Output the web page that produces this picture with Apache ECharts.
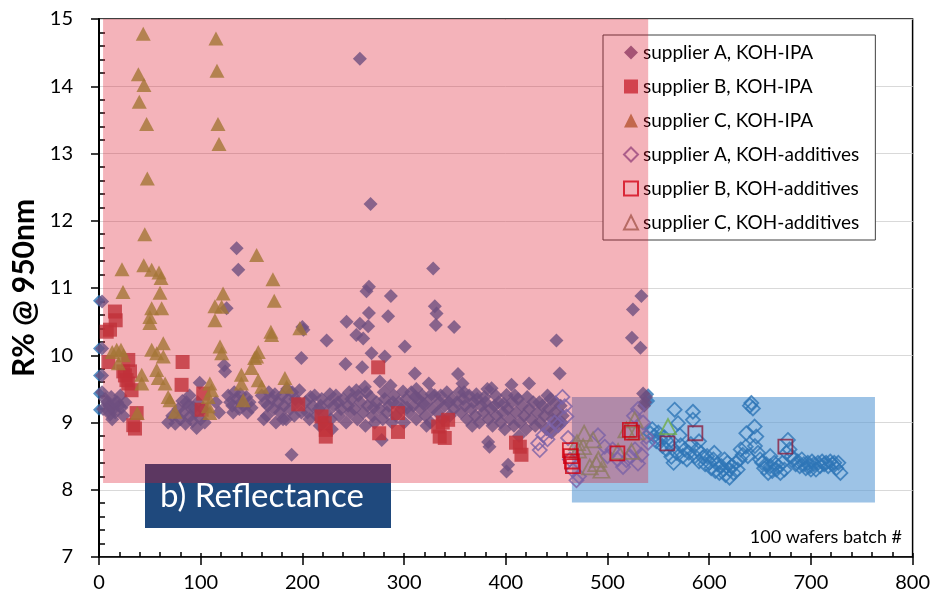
<!DOCTYPE html>
<html><head><meta charset="utf-8">
<script src="https://cdn.jsdelivr.net/npm/echarts@6/dist/echarts.min.js"></script>
<style>html,body{margin:0;padding:0;background:#fff}#c{width:933px;height:597px}</style>
</head><body><div id="c"></div>
<script>
// ---- axis ticks ----
const xTicks = [0, 100, 200, 300, 400, 500, 600, 700, 800];
const yTicks = [7, 8, 9, 10, 11, 12, 13, 14, 15];
// ---- highlighted regions [xFrom, xTo, yFrom, yTo] ----
const pinkRegion = [4, 540, 8.1, 15];
const blueRegion = [465, 763, 7.81, 9.38];
// ---- series names ----
const names = ['supplier A, KOH-IPA', 'supplier B, KOH-IPA', 'supplier C, KOH-IPA',
  'supplier A, KOH-additives', 'supplier B, KOH-additives', 'supplier C, KOH-additives'];

const aIPA = [
 [3,10.8],[3,10.1],[3,9.7],[3,9.45],[4,9.2],[6,9.35],[8,9.3],[10,9.25],[12,9.38],[14,9.2],[16,9.15],[18,9.3],[20,9.25],[22,9.22],[24,9.1],[11,9.12],[15,9.28],[26,9.3],
 [68,9.0],[72,9.1],[75,8.98],[78,9.2],[80,9.05],[83,9.15],[85,8.98],[88,9.25],[90,9.1],[92,9.02],[95,9.15],[97,9.3],[100,9.05],[102,9.2],[104,9.0],[99,9.59],[86,9.3],[93,9.22],
 [125.5,10.7],[123,9.85],[124,9.76],[135.3,11.59],[137,11.27],[127,9.4],[129,9.3],[131,9.25],[133,9.45],[136,9.35],[138,9.2],[140,9.3],[142,9.25],[145,9.38],[148,9.3],[150,9.22],[115,9.3],[118,9.15],
 [160,9.4],[163,9.3],[165,9.1],[167,9.45],[170,9.35],[172,9.2],[174,9.0],[176,9.3],[178,9.15],[180,9.4],[182,9.25],[184,9.05],[186,9.35],[188,9.2],[190,9.45],[192,9.1],[195,9.3],[197,9.48],[199,9.15],[189.4,8.52],[199,9.96],[200,10.42],[201,10.38],[162,9.05],[185,9.5],
 [203,9.3],[205,9.15],[207,9.05],[210,9.25],[212,9.4],[214,9.1],[216,9.2],[219,9.35],[221,9.0],[224,9.15],[226,9.3],[228,9.05],[231,9.25],[233,9.4],[236,9.1],[238,9.2],[240,9.35],[243,9.0],[245,9.25],[247,9.15],[223.8,10.22],[242.4,9.87],[243.4,10.5],[246,9.45],[229,8.9],[217,8.95],
 [256.5,14.41],[267,12.25],[253,10.3],[256.5,10.47],[259.8,10.25],[264.7,10.43],[258.8,9.82],[253,9.48],[261.4,9.53],[265.4,11.02],[263,10.95],[265.4,10.63],[268,10.03],[276.2,9.61],[281,9.98],[284.3,10.58],[287,10.88],[286.7,9.55],[299,9.46],[278,8.74],
 [251,9.2],[254,9.05],[257,9.3],[260,9.15],[262,8.95],[264,9.25],[267,9.38],[269,9.1],[271,9.0],[273,9.3],[276,9.2],[279,9.05],[281,9.35],[283,9.15],[285,9.25],[288,9.0],[290,9.4],[292,9.1],[295,9.3],[297,9.2],[300,9.0],
 [300.7,10.13],[310.6,9.73],[324.3,9.58],[328.6,11.29],[330.2,10.73],[331.9,10.62],[331.2,10.45],[349.2,10.42],[302,9.35],[305,9.15],[307,9.45],[309,9.25],[312,9.05],[314,9.35],[316,9.2],[318,9.4],[321,9.1],[323,9.3],[326,9.0],[328,9.2],[330,9.4],[333,9.15],[335,9.3],[338,9.05],[340,9.25],[342,9.45],[345,9.1],[347,9.35],[349,9.2],[322,8.95],[312,9.5],
 [353,9.72],[357.4,9.58],[381.9,9.5],[382.6,8.71],[384,8.64],[352,9.3],[354,9.45],[356,9.15],[358,9.35],[360,9.25],[362,9.05],[364,9.4],[366,9.2],[368,9.3],[370,9.1],[372,9.35],[374,9.0],[376,9.25],[378,9.15],[380,9.3],[383,9.05],[385,9.2],[387,8.95],[389,9.25],[391,9.1],[393,9.3],[395,9.0],[397,9.15],[399,8.9],[386,9.51],[367,8.95],
 [400.7,9.41],[405.6,9.56],[422.9,9.58],[402.3,8.37],[400.7,8.27],[449.8,10.22],[453,9.73],[402,9.2],[404,9.05],[406,9.3],[408,8.95],[410,9.15],[412,9.35],[414,9.0],[416,9.25],[418,9.1],[420,8.9],[423,9.2],[425,9.05],[427,9.3],[429,8.95],[431,9.15],[434,9.0],[436,9.25],[438,9.1],[440,8.9],[442,9.2],[444,9.35],[446,9.05],[448,9.15],[450,9.0],[452,8.95],[454,9.25],[456,9.1],[413,8.8],[445,8.85],
 [533.3,10.88],[525,10.68],[524,10.26],[532.4,10.11],[535,9.43],[537,9.3],[538,9.38],[536,9.25],
 [13,9.05],[21,9.4],[9,9.18],[82,9.32],[89,9.4],[96,8.92],[132,9.15],[139,9.42],[146,9.15],[166,9.25],[173,9.42],[181,9.05],[193,9.35],[208,9.38],[218,9.25],[227,9.42],[235,9.3],[248,9.35],[255,9.4],[263,9.45],[270,9.22],[280,9.45],
 [289,9.3],[303,9.22],[311,9.38],[319,9.28],[327,9.42],[336,9.4],[344,9.3],[359,9.45],[371,9.42],[379,9.38],[390,9.4],[398,9.28],[409,9.4],[421,9.38],[433,9.3],[441,9.4],[449,9.3],[455,9.0]
];
const bIPA = [
 [7.6,10.35],[15.7,10.65],[16.4,10.52],[10.8,10.38],[9.2,9.9],[28.8,9.93],[23.9,9.76],[30.5,9.76],[28.8,9.58],[32,9.48],[37,9.14],[33.7,8.96],[35.4,8.91],[27,9.63],[25.5,9.7],
 [82.2,9.9],[81.2,9.56],[102.5,9.43],[100.9,9.19],[195.9,9.27],[274.5,9.82],[218.8,9.09],[222,8.99],[223,8.89],[223,8.79],[275.5,8.84],[294,9.14],[294,8.86],
 [333.5,8.94],[343.3,9.04],[340,8.77],[335,8.79],[338,9.0],[413.8,8.64],[415.4,8.52],[410,8.7]
];
const cIPA = [
 [43.5,14.78],[38.7,14.18],[44.2,14.02],[39.6,13.77],[46.8,13.44],[47.5,12.63],[115,14.71],[116,14.23],[117,13.44],[118,13.14],[45,11.8],[22.6,11.28],[23.6,10.94],[44,11.34],[51.8,11.27],[59,11.23],[61,11.15],[60,10.93],
 [155,11.49],[171,11.13],[122,10.92],[172.3,10.81],[51.8,10.7],[61.6,10.7],[50,10.57],[50,10.48],[114,10.73],[120.6,10.72],[114,10.52],[169,10.35],[169.7,10.3],[197.5,10.4],[119,10.13],[120.6,10.03],[156.6,10.05],[155,9.98],
 [63.2,10.18],[51.8,10.08],[56.7,10.03],[63.2,9.98],[17.4,10.08],[21.6,10.08],[19,9.88],[56.7,9.78],[58.3,9.66],[42,9.71],[42,9.58],[65,9.58],[68,9.38],[69.8,9.33],[74.7,9.16],[37.6,9.14],
 [109,9.58],[110.7,9.48],[107.4,9.38],[107.4,9.24],[109,9.14],[140,9.71],[140,9.58],[141.8,9.33],[150,9.81],[153,9.96],[156.6,9.63],[160,9.53],[182.8,9.66],[184.5,9.53],[24,10.0],[13,10.05]
];
const aAdd = [
 [455.7,9.38],[458,9.24],[459.6,9.09],[451.4,8.96],[443.2,8.89],[436.7,8.81],[431.8,8.69],[433.4,8.59],[461.2,8.77],[466,8.29],[469.5,8.14],[490.7,8.81],[497.3,8.64],[518.6,8.44],[530,8.39],[533.3,8.52],[515.3,8.34],[538.2,8.79],[540,8.7],
 [463,8.45],[472,8.2],[500,8.5],[505,8.6],[510,8.45],[522,8.5],[527,8.6],[535,9.0],[530,9.2],[526,9.1],[448,9.0],[441,8.75]
];
const bAdd = [[463,8.59],[464,8.5],[465,8.42],[466,8.35],[509.7,8.54],[522,8.89],[524,8.85]];
const cAdd = [[477,8.84],[485.8,8.74],[471,8.59],[489,8.39],[494,8.29],[510.4,8.57],[523.5,8.57],[526.8,9.04],[518.6,8.89],[528.4,8.86],[476,8.64],[482.6,8.34],[470,8.7],[491,8.45]];
// unlabeled extra series
const blueFilled = [[0,10.81],[0,10.1],[0,9.7],[0,9.43],[0,9.19],[540,9.42],[541,9.32]];
const blueHollow = [
 [542,8.84],[544,8.9],[546,8.8],[548,8.72],[550,8.85],[552,8.75],[554,8.65],[556,8.78],[558,8.6],[560,8.7],[562.8,8.49],[564,8.62],[566,9.19],[569.3,8.99],[571,8.81],[568,8.55],[572,8.66],[574,8.5],[576,8.6],[578,8.45],[580,8.55],[582,8.68],[584,9.16],[584,9.04],
 [586,8.5],[588,8.6],[590,8.42],[592,8.55],[594,8.48],[596,8.38],[598,8.5],[600,8.4],[602,8.32],[604,8.45],[606,8.28],[608,8.38],[610,8.25],[612,8.35],[614,8.3],[616,8.22],[618,8.4],[620,8.3],[622,8.35],[624,8.25],[626,8.4],[628,8.3],[630,8.45],[631,8.6],[633,8.52],[636,8.64],[636.5,8.84],[638,8.5],
 [641.4,9.29],[643,9.21],[640,9.25],[644.7,8.94],[646.3,8.79],[648,8.55],[650,8.45],[652,8.4],[654,8.32],[656,8.38],[658,8.25],[660,8.35],[662,8.28],[664,8.4],[666,8.3],[668,8.35],[670,8.25],[672,8.4],[674,8.3],[676,8.55],[677.4,8.74],[679,8.6],[681,8.5],[683,8.45],[685,8.38],[687,8.42],[689,8.35],
 [691,8.45],[693,8.38],[695,8.32],[697,8.4],[699,8.35],[701,8.42],[703,8.38],[705,8.3],[707,8.4],[709,8.35],[711,8.42],[713,8.38],[715,8.4],[717,8.35],[719,8.42],[721,8.38],[723,8.4],[725,8.32],[727,8.4],[729,8.25],
 [605,8.55],[590,8.72],[615,8.45],[645,8.65],[660,8.5],[700,8.3],[620,8.18],[565,8.4]
];
const bAddLate = [[558.9,8.69],[586.4,8.84],[674.9,8.64]];
const greenHollow = [[559.5,8.94]];

const FONT = 'Lato';
const hollow = c => ({color: 'rgba(0,0,0,0)', borderColor: c, borderWidth: 1.8});

function rectSeries(region, fill, z) {
  return {
    type: 'custom', z: z, silent: true, clip: false,
    data: [region],
    renderItem: (params, api) => {
      const p0 = api.coord([api.value(0), api.value(3)]);
      const p1 = api.coord([api.value(1), api.value(2)]);
      return {type: 'rect', shape: {x: p0[0], y: p0[1], width: p1[0] - p0[0], height: p1[1] - p0[1]}, style: {fill: fill}};
    }
  };
}

const xBase = {type: 'value', min: xTicks[0], max: xTicks[xTicks.length - 1], interval: 100, gridIndex: 0};
const yBase = {type: 'value', min: yTicks[0], max: yTicks[yTicks.length - 1], interval: 1, gridIndex: 0};

const chart = echarts.init(document.getElementById('c'), null, {renderer: 'canvas'});
chart.setOption({
  animation: false,
  backgroundColor: '#fff',
  textStyle: {fontFamily: FONT},
  grid: {left: 99, right: 20, top: 19, bottom: 40, show: true, borderColor: '#000', borderWidth: 1.5, backgroundColor: 'transparent'},
  xAxis: [
    Object.assign({}, xBase, {
      position: 'bottom',
      axisLine: {lineStyle: {color: '#000', width: 1.5}},
      axisTick: {show: true, inside: false, length: 8, lineStyle: {color: '#000', width: 1.5}},
      axisLabel: {fontSize: 20, color: '#000', margin: 16, fontFamily: FONT},
      splitLine: {show: false}
    }),
    Object.assign({}, xBase, {
      position: 'bottom',
      axisLine: {show: false},
      axisTick: {show: true, inside: true, length: 4, lineStyle: {color: '#000', width: 1.5}},
      minorTick: {show: true, splitNumber: 5, length: 5, lineStyle: {color: '#000', width: 1.5}},
      axisLabel: {show: false},
      splitLine: {show: false}
    })
  ],
  yAxis: [
    Object.assign({}, yBase, {
      position: 'left',
      name: 'R% @ 950nm', nameLocation: 'middle', nameGap: 60, nameRotate: 90,
      nameTextStyle: {fontSize: 30, fontWeight: 'bold', color: '#000', fontFamily: FONT},
      axisLine: {lineStyle: {color: '#000', width: 2}},
      axisTick: {show: true, inside: false, length: 8, lineStyle: {color: '#000', width: 1.5}},
      axisLabel: {fontSize: 20, color: '#000', margin: 26, fontFamily: FONT},
      splitLine: {show: true, lineStyle: {color: '#d9d9d9', width: 1}}
    }),
    Object.assign({}, yBase, {
      position: 'left',
      axisLine: {show: false},
      axisTick: {show: false, inside: true},
      minorTick: {show: true, splitNumber: 5, length: 6, lineStyle: {color: '#000', width: 1.5}},
      axisLabel: {show: false},
      splitLine: {show: false}
    })
  ],
  legend: {
    data: names,
    orient: 'vertical', left: 603, top: 35, z: 1,
    padding: [8, 16, 8, 20],
    itemWidth: 14, itemHeight: 14, itemGap: 15,
    backgroundColor: '#fff', borderColor: '#404040', borderWidth: 1,
    textStyle: {fontSize: 19, color: '#000', fontFamily: FONT},
    selectedMode: false
  },
  graphic: [
    {type: 'rect', z: 1, shape: {x: 145, y: 464, width: 246, height: 64}, style: {fill: '#1f497d'}},
    {type: 'text', z: 10, x: 160, y: 496, style: {text: 'b) Reflectance', fill: '#fff', font: '33px Lato', verticalAlign: 'middle', align: 'left'}},
    {type: 'text', z: 10, x: 902, y: 537, style: {text: '100 wafers batch #', fill: '#000', font: '18px Lato', verticalAlign: 'middle', align: 'right'}}
  ],
  series: [
    rectSeries(blueRegion, 'rgba(91,155,213,0.6)', 1),
    rectSeries(pinkRegion, 'rgba(221,18,40,0.32)', 2),
    {name: 'blueFilled', type: 'scatter', z: 3, symbol: 'diamond', symbolSize: 12, data: blueFilled, itemStyle: {color: '#2e75b6'}},
    {name: names[0], type: 'scatter', z: 3, symbol: 'diamond', symbolSize: 14, data: aIPA, itemStyle: {color: '#6e4f80'}},
    {name: 'blueHollow', type: 'scatter', z: 3, symbol: 'diamond', symbolSize: 14, data: blueHollow, itemStyle: hollow('#2e75b6')},
    {name: names[3], type: 'scatter', z: 3, symbol: 'diamond', symbolSize: 14, data: aAdd, itemStyle: hollow('#7a62a6')},
    {name: names[1], type: 'scatter', z: 3, symbol: 'rect', symbolSize: 14, data: bIPA, itemStyle: {color: '#c0313a'}},
    {name: names[2], type: 'scatter', z: 3, symbol: 'triangle', symbolSize: [15, 14], data: cIPA, itemStyle: {color: '#a47636'}},
    {name: names[5], type: 'scatter', z: 3, symbol: 'triangle', symbolSize: [16, 15], data: cAdd, itemStyle: hollow('#8e7a62')},
    {name: names[4], type: 'scatter', z: 3, symbol: 'rect', symbolSize: 14, data: bAdd, itemStyle: hollow('#d00010')},
    {name: 'bAddLate', type: 'scatter', z: 3, symbol: 'rect', symbolSize: 14, data: bAddLate, itemStyle: hollow('#8b1e3f')},
    {name: 'greenHollow', type: 'scatter', z: 3, symbol: 'triangle', symbolSize: [16, 15], data: greenHollow, itemStyle: hollow('#70ad47')}
  ]
});
</script></body></html>
